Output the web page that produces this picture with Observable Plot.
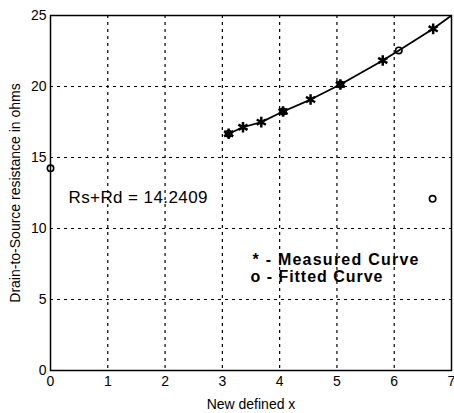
<!DOCTYPE html>
<html><head><meta charset="utf-8">
<script src="https://cdn.jsdelivr.net/npm/d3@7"></script>
<script src="https://cdn.jsdelivr.net/npm/@observablehq/plot@0.6"></script>
<style>
body{margin:0;background:#fff;}
svg{font-family:"Liberation Sans",Arial,sans-serif;}
</style></head>
<body><div id="chart"></div>
<script>
const measuredX = [3.11, 3.36, 3.68, 4.06, 4.54, 5.06, 5.80, 6.68];
const measuredY = [16.67, 17.13, 17.49, 18.24, 19.08, 20.14, 21.83, 24.06];
const fittedX = [0, 3.11, 4.06, 5.06, 6.08, 6.67];
const fittedY = [14.2409, 16.67, 18.24, 20.14, 22.54, 12.09];
const curveX = [3.11, 3.36, 3.68, 4.06, 4.54, 5.06, 5.80, 6.08, 6.68, 7.0];
const curveY = [16.67, 17.13, 17.49, 18.24, 19.08, 20.14, 21.83, 22.54, 24.06, 25.0];
const xTicks = [0, 1, 2, 3, 4, 5, 6, 7];
const yTicks = [0, 5, 10, 15, 20, 25];
const annotation = "Rs+Rd = 14.2409";
const legendLabels = ["* - Measured Curve", "o - Fitted Curve"];

const measured = measuredX.map((x, i) => ({x, y: measuredY[i]}));
const fitted = fittedX.map((x, i) => ({x, y: fittedY[i]}));
const curve = curveX.map((x, i) => ({x, y: curveY[i]}));

const chart = Plot.plot({
  width: 454, height: 413,
  marginLeft: 50, marginRight: 3, marginTop: 15, marginBottom: 43,
  x: {domain: [0, 7]},
  y: {domain: [0, 25]},
  style: {fontFamily: '"Liberation Sans", Arial, sans-serif', color: "#000", background: "#fff"},
  marks: [
    Plot.ruleX(xTicks.slice(1, -1), {stroke: "#000", strokeWidth: 1.2, strokeDasharray: "3,4"}),
    Plot.ruleY(yTicks.slice(1, -1), {stroke: "#000", strokeWidth: 1.2, strokeDasharray: "3,4"}),
    Plot.frame({stroke: "#000", strokeWidth: 1.5}),
    Plot.line(curve, {x: "x", y: "y", stroke: "#000", strokeWidth: 1.8, clip: true}),
    Plot.dot(measured, {x: "x", y: "y", symbol: "asterisk", r: 5, stroke: "#000", strokeWidth: 2.5}),
    Plot.dot(fitted, {x: "x", y: "y", symbol: "circle", r: 3.2, stroke: "#000", fill: "none", strokeWidth: 1.6}),
    Plot.axisX(xTicks, {tickSize: 0, tickPadding: 6, fontSize: 14, label: "New defined x", labelAnchor: "center", labelArrow: "none", labelOffset: 38}),
    Plot.axisY(yTicks, {tickSize: 0, tickPadding: 4, fontSize: 14, label: "Drain-to-Source resistance in ohms", labelAnchor: "center", labelArrow: "none", labelOffset: 40}),
    Plot.text([annotation], {frameAnchor: "top-left", dx: 18, dy: 175, fontSize: 17, textAnchor: "start"}),
    Plot.text([legendLabels[0]], {frameAnchor: "top-left", dx: 202, dy: 238, fontSize: 16, fontWeight: "bold", textAnchor: "start"}),
    Plot.text([legendLabels[1]], {frameAnchor: "top-left", dx: 200, dy: 255, fontSize: 16, fontWeight: "bold", textAnchor: "start"})
  ]
});
const widths = {[annotation]: 139, [legendLabels[0]]: 166, [legendLabels[1]]: 132};
d3.select(chart).selectAll("text").each(function() {
  const w = widths[this.textContent];
  if (w) d3.select(this).attr("textLength", w).attr("lengthAdjust", "spacing");
});
document.getElementById("chart").appendChild(chart);
</script></body></html>
